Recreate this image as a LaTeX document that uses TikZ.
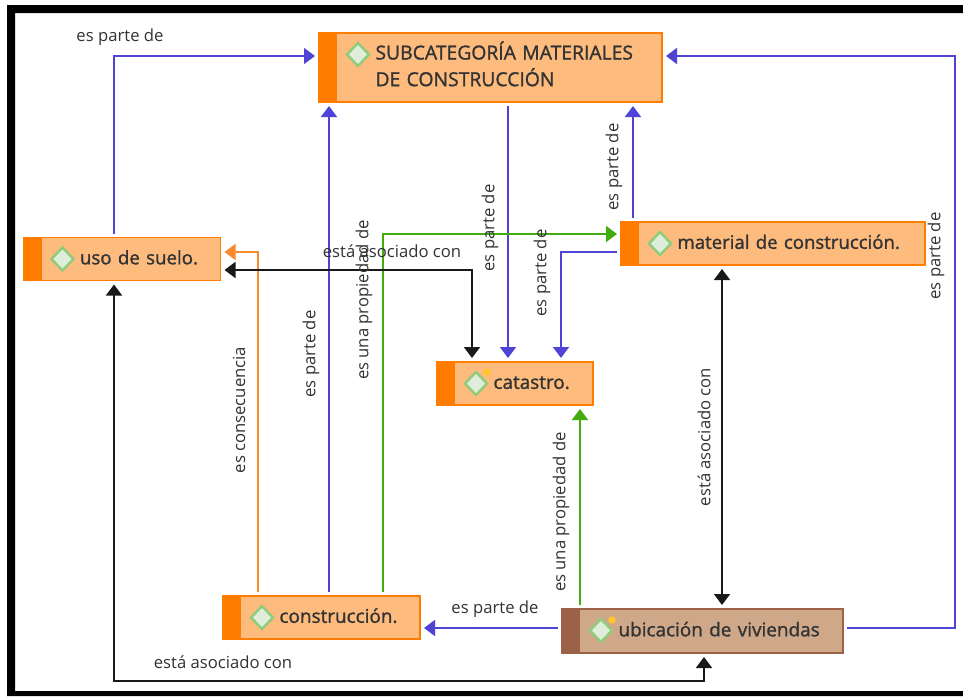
\documentclass[tikz,border=0pt]{standalone}
\usepackage{fontspec}
\setmainfont{Open Sans}
\newfontfamily\boxfont[FakeBold=1.3]{Open Sans}
\usetikzlibrary{arrows.meta}
\newdimen\pxu \pxu=0.75pt
\definecolor{orfill}{HTML}{FDBB7E}
\definecolor{orbar}{HTML}{FF7C00}
\definecolor{brfill}{HTML}{CFA88A}
\definecolor{brbar}{HTML}{9C6248}
\definecolor{txt}{HTML}{333333}
\definecolor{dmfill}{HTML}{DFEEDB}
\definecolor{dmline}{HTML}{8FCB7B}
\definecolor{dotc}{HTML}{FFC72C}
\definecolor{bluec}{HTML}{4F44D6}
\definecolor{greenc}{HTML}{42AC0C}
\definecolor{orline}{HTML}{FB8A2E}
\newcommand{\boxtxt}[1]{\hspace*{56.5\pxu}\raisebox{-2pt}{\begin{tabular}[c]{@{}l@{}}#1\end{tabular}}}
\tikzset{
  x=0.75pt,y=-0.75pt,
  box/.style n args={4}{draw=#4,fill=#3,line width=1.5\pxu,inner sep=0pt,align=left,
    text width=#1\pxu,minimum height=#2\pxu,text=txt,font=\boxfont\fontsize{14.2}{20}\selectfont,
    path picture={
      \fill[#4] (path picture bounding box.north west) rectangle ([xshift=18\pxu]path picture bounding box.south west);
      \fill[dmfill,draw=dmline,line width=2.4\pxu]
        ([shift={(39\pxu,-10\pxu)}]path picture bounding box.north west)
        -- ++(11\pxu,-11.5\pxu) -- ++(-11\pxu,-11.5\pxu) -- ++(-11\pxu,11.5\pxu) -- cycle;
    }},
  orbox/.style 2 args={box={#1}{#2}{orfill}{orbar}},
  link/.style={line width=1.4pt,-{Triangle[length=8.25pt,width=12pt]}},
  both/.style={line width=1.4pt,{Triangle[length=8.25pt,width=12pt]}-{Triangle[length=8.25pt,width=12pt]},black!90},
  lab/.style={text=txt,font=\fontsize{12.5}{15}\selectfont,inner sep=0pt},
  vlab/.style={lab,rotate=90},
  gap/.style={outer sep=4\pxu},
}
\begin{document}
\begin{tikzpicture}
\useasboundingbox (0,0) rectangle (963,696);
\fill[white] (0,0) rectangle (963,696);
\fill[black] (7,696) -- (7,5) -- (963,5) -- (963,13) -- (15,13) -- (15,691) -- (963,691) -- (963,696) -- cycle;

\node[orbox={343}{69},gap] (sub) at (490.5,67.5) {\fontsize{14.5}{20}\selectfont\boxtxt{SUBCATEGORÍA MATERIALES\\DE CONSTRUCCIÓN}};
\node[orbox={197}{43},gap] (uso) at (122,259) {\fontsize{14}{20}\selectfont\boxtxt{uso de suelo.}};
\node[orbox={156}{43},gap] (cat) at (515,383.5) {\boxtxt{catastro.}};
\node[orbox={304}{43},gap] (mat) at (773,243.5) {\fontsize{13.95}{20}\selectfont\boxtxt{material de construcción.}};
\node[orbox={197}{43},gap] (con) at (321.5,617.5) {\boxtxt{construcción.}};
\node[box={281}{44}{brfill}{brbar},gap] (ubi) at (702.5,631) {\boxtxt{ubicación de viviendas}};
\fill[dotc] (487,372) circle (2.8pt);
\fill[dotc] (612,620) circle (2.8pt);

% connectors
\draw[link,bluec] (uso.north -| 114,0) -- (114,56) -- (sub.west |- 0,56);
\draw[link,bluec] (ubi.east |- 0,628) -- (955,628) -- (955,56) -- (sub.east |- 0,56);
\draw[link,bluec] (con.north -| 329,0) -- (sub.south -| 329,0);
\draw[link,bluec] (sub.south -| 508,0) -- (cat.north -| 508,0);
\draw[link,bluec] (mat.north -| 633,0) -- (sub.south -| 633,0);
\draw[link,bluec] (mat.west |- 0,252) -- (561,252) -- (cat.north -| 561,0);
\draw[link,bluec] (ubi.west |- 0,628) -- (con.east |- 0,628);
\draw[link,greenc] (con.north -| 383,0) -- (383,234) -- (mat.west |- 0,234);
\draw[link,greenc] (ubi.north -| 580,0) -- (cat.south -| 580,0);
\draw[link,orline] (con.north -| 258,0) -- (258,252) -- (uso.east |- 0,252);
\draw[both] (uso.east |- 0,270) -- (472,270) -- (cat.north -| 472,0);
\draw[both] (mat.south -| 722,0) -- (ubi.north -| 722,0);
\draw[both] (uso.south -| 114,0) -- (114,681) -- (704,681) -- (ubi.south -| 704,0);

% labels
\node[lab] (l1) at (120,37) {es parte de};
\node[lab] (l2) at (392,251.5) {está asociado con};
\node[lab] (l3) at (495,609) {es parte de};
\node[lab] (l4) at (223,662) {está asociado con};
\node[vlab] (l5) at (311,354) {es parte de};
\node[vlab] (l6) at (364,300) {es una propiedad de};
\node[vlab] (l7) at (239,410) {es consecuencia};
\node[vlab] (l8) at (490,228) {es parte de};
\node[vlab] (l9) at (542,273) {es parte de};
\node[vlab] (l10) at (614,167) {es parte de};
\node[vlab] (l11) at (936,256) {es parte de};
\node[vlab] (l12) at (704,437) {está asociado con};
\node[vlab] (l13) at (561,512) {es una propiedad de};
\end{tikzpicture}
\end{document}
